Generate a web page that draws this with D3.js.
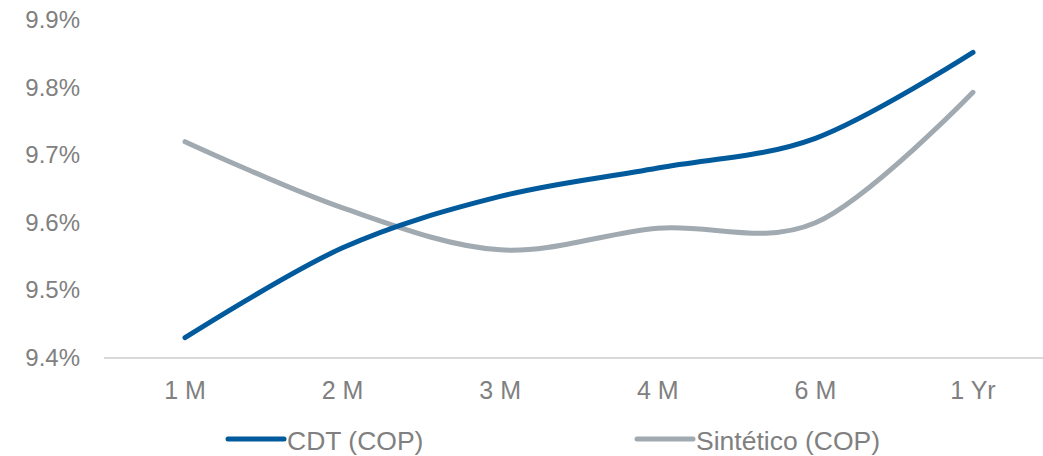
<!DOCTYPE html>
<html>
<head>
<meta charset="utf-8">
<script src="https://cdn.jsdelivr.net/npm/d3@7"></script>
<style>
  html, body { margin: 0; padding: 0; background: #ffffff; }
  svg { display: block; }
  text { font-family: "Liberation Sans", Arial, sans-serif; fill: #808080; }
</style>
</head>
<body>
<svg id="chart" width="1043" height="456"></svg>
<script>
const categories = ["1 M", "2 M", "3 M", "4 M", "6 M", "1 Yr"];
const cdtValues = [9.430, 9.563, 9.639, 9.681, 9.725, 9.852];
const sinteticoValues = [9.720, 9.622, 9.560, 9.592, 9.600, 9.793];
const yTicks = [9.4, 9.5, 9.6, 9.7, 9.8, 9.9];
const seriesNames = ["CDT (COP)", "Sintético (COP)"];
const seriesColors = ["#005A9C", "#A0AAB0"];

const svg = d3.select("#chart");
const x = d3.scalePoint().domain(categories).range([185, 973]);
const y = d3.scaleLinear().domain([9.4, 9.9]).range([358, 20]);

// x axis baseline
svg.append("line")
  .attr("x1", 104).attr("x2", 1043)
  .attr("y1", y(9.4)).attr("y2", y(9.4))
  .attr("stroke", "#d9d9d9").attr("stroke-width", 2);

// y tick labels
svg.append("g").selectAll("text").data(yTicks).join("text")
  .attr("x", 80).attr("y", d => y(d))
  .attr("dy", "0.33em")
  .attr("text-anchor", "end")
  .style("font-size", "24px")
  .text(d => d3.format(".1f")(d) + "%");

// x labels
svg.append("g").selectAll("text").data(categories).join("text")
  .attr("x", d => x(d)).attr("y", 390)
  .attr("dy", "0.35em")
  .attr("text-anchor", "middle")
  .style("font-size", "25px")
  .text(d => d);

const line = d3.line()
  .x((d, i) => x(categories[i]))
  .y(d => y(d))
  .curve(d3.curveCardinal.tension(0));

svg.append("path").datum(sinteticoValues)
  .attr("d", line).attr("fill", "none")
  .attr("stroke", seriesColors[1]).attr("stroke-width", 5)
  .attr("stroke-linecap", "round");
svg.append("path").datum(cdtValues)
  .attr("d", line).attr("fill", "none")
  .attr("stroke", seriesColors[0]).attr("stroke-width", 5)
  .attr("stroke-linecap", "round");

// legend
const legendX = [228, 637];
const lg = svg.append("g").selectAll("g").data(seriesNames).join("g");
lg.append("line")
  .attr("x1", (d, i) => legendX[i]).attr("x2", (d, i) => legendX[i] + 56)
  .attr("y1", 439).attr("y2", 439)
  .attr("stroke", (d, i) => seriesColors[i]).attr("stroke-width", 5)
  .attr("stroke-linecap", "round");
lg.append("text")
  .attr("x", (d, i) => legendX[i] + 59).attr("y", 441)
  .attr("dy", "0.35em")
  .style("font-size", "26.5px")
  .text(d => d);
</script>
</body>
</html>
